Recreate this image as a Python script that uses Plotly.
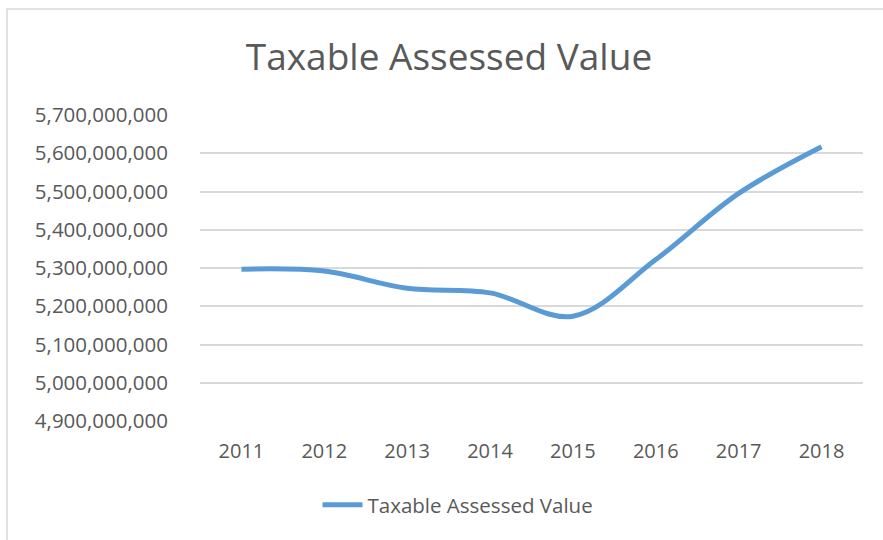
import plotly.graph_objects as go

years = ["2011", "2012", "2013", "2014", "2015", "2016", "2017", "2018"]
values = [5297000000, 5292000000, 5247000000, 5235000000, 5174000000, 5322000000, 5495000000, 5617000000]
series_name = "Taxable Assessed Value"
y_ticks = [4900000000 + i * 100000000 for i in range(9)]

W, H = 883, 540
L, R, T, B = 200, 20, 115, 119
pw, ph = W - L - R, H - T - B

def px2paper_x(px):
    return (px - L) / pw

def py2paper_y(py):
    return (H - B - py) / ph

grey = "#595959"
font = "Open Sans"

fig = go.Figure()
fig.add_trace(go.Scatter(
    x=years, y=values, mode="lines", name=series_name,
    line=dict(color="#5b9bd5", width=5, shape="spline", smoothing=1.0),
))

fig.update_layout(
    width=W, height=H,
    margin=dict(l=L, r=R, t=T, b=B),
    paper_bgcolor="white", plot_bgcolor="white",
    title=dict(text="Taxable Assessed Value", x=449 / W, xanchor="center",
               y=1 - 57 / H, yanchor="middle", yref="container",
               font=dict(family=font, size=37, color=grey)),
    font=dict(family=font, color=grey),
    showlegend=True,
    legend=dict(orientation="h", x=px2paper_x(458), xanchor="center",
                y=py2paper_y(505), yanchor="middle",
                font=dict(family=font, size=20.5, color=grey),
                itemwidth=40),
    xaxis=dict(type="category", showgrid=False, zeroline=False, showline=False,
               ticks="", tickfont=dict(family=font, size=20, color=grey),
               ticklabelstandoff=16, range=[-0.5, 7.5]),
    yaxis=dict(range=[4900000000, 5700000000], tickvals=y_ticks, tickformat=",d",
               showgrid=True, gridcolor="#d9d9d9", gridwidth=1.5, zeroline=False,
               showline=False, ticks="", ticklabelstandoff=31,
               tickfont=dict(family=font, size=20.5, color=grey)),
    shapes=[dict(type="rect", xref="paper", yref="paper",
                 x0=px2paper_x(7), x1=px2paper_x(895),
                 y0=py2paper_y(560), y1=py2paper_y(9),
                 line=dict(color="#d9d9d9", width=1.5), layer="below")],
)

fig.write_html("out.html", config={"displayModeBar": False},
               post_script="document.body.style.margin='0';document.body.style.padding='0';")
